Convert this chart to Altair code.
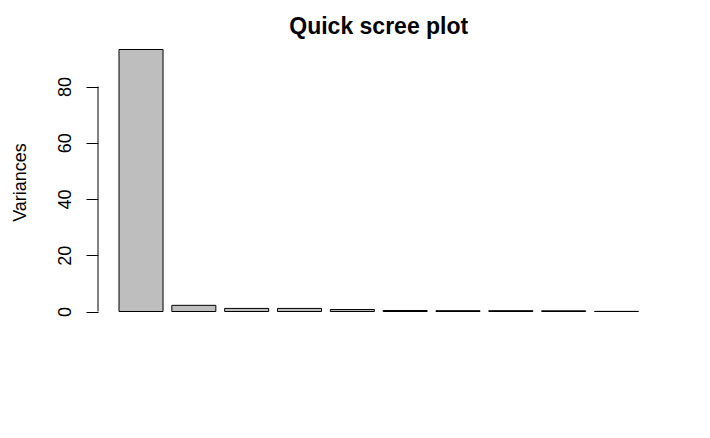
import altair as alt
import pandas as pd

components = ["Comp.1", "Comp.2", "Comp.3", "Comp.4", "Comp.5",
              "Comp.6", "Comp.7", "Comp.8", "Comp.9", "Comp.10"]
variances = [93.2, 2.2, 1.1, 1.1, 0.7, 0.35, 0.3, 0.3, 0.25, 0.05]
y_ticks = [0, 20, 40, 60, 80]
y_domain = [-3.73, 96.93]

df = pd.DataFrame({"component": components, "variance": variances})

FONT = "Liberation Sans"

y_scale = alt.Scale(domain=y_domain, nice=False, zero=False)

bars = alt.Chart(df).mark_bar(
    fill="#BEBEBE", stroke="black", strokeWidth=1
).encode(
    x=alt.X("component:N", sort=components, axis=None,
            scale=alt.Scale(paddingInner=1/6, paddingOuter=0.3975)),
    y=alt.Y("variance:Q", scale=y_scale,
            axis=alt.Axis(
                values=y_ticks, domain=False, grid=False,
                tickSize=12, tickColor="black", tickWidth=1,
                labelAngle=270, labelAlign="center", labelBaseline="alphabetic",
                labelPadding=16, labelFont=FONT, labelFontSize=18,
                labelColor="black",
                title="Variances", titleFont=FONT, titleFontSize=18,
                titleFontWeight="normal", titleColor="black",
                titleAngle=270, titleAlign="center", titleBaseline="alphabetic",
                titleX=-73, titleY=143,
            )),
    y2=alt.datum(0),
)

axis_line = alt.Chart(pd.DataFrame({"lo": [y_ticks[0]], "hi": [y_ticks[-1]]})).mark_rule(
    color="black", strokeWidth=1
).encode(
    x=alt.value(0),
    y=alt.Y("lo:Q", scale=y_scale),
    y2="hi:Q",
)

chart = alt.layer(bars, axis_line).properties(
    width=561.5, height=283,
    padding={"left": 98, "top": 39, "right": 50.5, "bottom": 116},
    autosize="none",
    background="white",
    title=alt.TitleParams(
        "Quick scree plot", font=FONT, fontSize=23, fontWeight="bold",
        color="black", anchor="middle", baseline="alphabetic", offset=2, dy=20,
    ),
).configure_view(stroke=None)

chart.save("out.html", embed_options={"renderer": "svg", "actions": False})
